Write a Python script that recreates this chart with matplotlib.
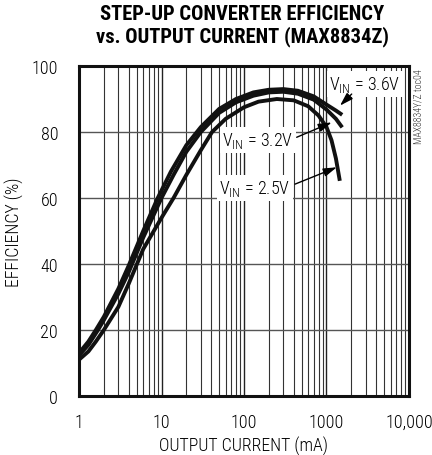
import matplotlib
matplotlib.use("Agg")
import matplotlib.pyplot as plt
from matplotlib.ticker import FixedLocator, NullFormatter

FONT = 'Roboto Condensed'
plt.rcParams['font.family'] = [FONT, 'DejaVu Sans']
plt.rcParams['font.weight'] = 'normal'
plt.rcParams['mathtext.fontset'] = 'custom'
plt.rcParams['mathtext.rm'] = FONT
plt.rcParams['mathtext.it'] = FONT
plt.rcParams['mathtext.default'] = 'regular'

# Data
i_36 = [1, 1.3, 1.6, 2, 3, 4, 6, 9, 13, 20, 30, 50, 80, 130, 200, 300, 450, 700, 1000, 1300, 1550]
eff_36 = [13, 16.5, 20, 24, 32.5, 39.5, 50, 60, 68, 76, 81.5, 87, 90, 92, 92.8, 93, 92.5, 90.8, 88.3, 86.5, 85.2]

i_32 = [1, 1.3, 1.7, 2, 3, 4, 6, 10, 14, 20, 30, 50, 80, 130, 200, 300, 450, 700, 1000, 1300, 1550]
eff_32 = [12.3, 15.5, 20, 23, 31, 37.5, 48, 60, 67, 74, 80, 85.8, 89, 91, 92, 92.2, 91.6, 89.8, 86.8, 84, 81.4]

i_25 = [1, 1.3, 1.6, 2, 3, 4, 6, 10, 14, 20, 30, 41, 60, 100, 150, 250, 400, 600, 800, 1000, 1150, 1300, 1450]
eff_25 = [11, 13.5, 16.5, 20, 27, 34, 44.5, 54, 60, 67, 74.5, 80, 84, 87.5, 89.2, 90, 89.6, 87.8, 85, 81.5, 77.5, 72, 65.2]

x_ticks = [1, 10, 100, 1000, 10000]
x_ticklabels = ['1', '10', '100', '1000', '10,000']
y_ticks = [0, 20, 40, 60, 80, 100]

fig = plt.figure(figsize=(4.32, 4.56), dpi=100)
ax = fig.add_axes([79/432, 1-397/456, 330/432, 330/456])

ax.set_xscale('log')
ax.set_xlim(1, 10000)
ax.set_ylim(0, 100)

minor = [m * 10**d for d in range(4) for m in range(2, 10)]
for xv in minor:
    ax.axvline(xv, color='#333333', lw=0.8, zorder=1)
for xv in x_ticks:
    ax.axvline(xv, color='#222222', lw=1.0, zorder=1)
for yv in y_ticks:
    ax.axhline(yv, color='#555555', lw=1.0, zorder=1)

for xs, ys in [(i_36, eff_36), (i_32, eff_32), (i_25, eff_25)]:
    ax.plot(xs, ys, color='#111111', lw=2.8, solid_capstyle='butt', zorder=3)

ax.xaxis.set_major_locator(FixedLocator(x_ticks))
ax.xaxis.set_minor_locator(FixedLocator(minor))
ax.xaxis.set_minor_formatter(NullFormatter())
ax.set_xticklabels(x_ticklabels)
ax.set_yticks(y_ticks)
ax.tick_params(which='both', length=0, labelsize=13, pad=12)
ax.tick_params(axis='y', pad=15)
for lab in ax.get_xticklabels() + ax.get_yticklabels():
    lab.set_fontweight(300)

for s in ax.spines.values():
    s.set_linewidth(2.2)
    s.set_color('#111111')
    s.set_zorder(5)

ax.set_xlabel('OUTPUT CURRENT (mA)', fontsize=12.8, labelpad=4, fontweight=300)
ax.set_ylabel('EFFICIENCY (%)', fontsize=12.8, fontweight=300)
ax.yaxis.set_label_coords(-55/330, 0.5)

bbox = dict(boxstyle='square,pad=0.15', fc='white', ec='none')
ap = dict(arrowstyle='-|>,head_length=0.8,head_width=0.25', lw=1.0, color='black',
          shrinkA=0, shrinkB=0)

labels = [
    (r'V$_{IN}$ = 3.6V', (2930, 94.5), (2020, 91.5), (1458, 88.0)),
    (r'V$_{IN}$ = 3.2V', (148, 77.6), (435, 78.4), (1156, 82.9)),
    (r'V$_{IN}$ = 2.5V', (136, 63.0), (415, 64.2), (1330, 69.3)),
]
for txt, pos, start, tip in labels:
    ax.text(pos[0], pos[1], txt, ha='center', va='center', fontsize=13,
            fontweight=300, bbox=bbox, zorder=4)
    ax.annotate('', xy=tip, xytext=start, arrowprops=ap, zorder=4)

fig.text(242/432, 1-15/456, 'STEP-UP CONVERTER EFFICIENCY', ha='center', va='center',
         fontsize=14.8, fontweight=900)
fig.text(242/432, 1-37/456, 'vs. OUTPUT CURRENT (MAX8834Z)', ha='center', va='center',
         fontsize=14.8, fontweight=900)
fig.text(418/432, 1-69/456, 'MAX8834Y/Z toc04', rotation=90, ha='center', va='top',
         fontsize=7, color='#333333', fontweight=300)

fig.savefig('out.png', dpi=100)
